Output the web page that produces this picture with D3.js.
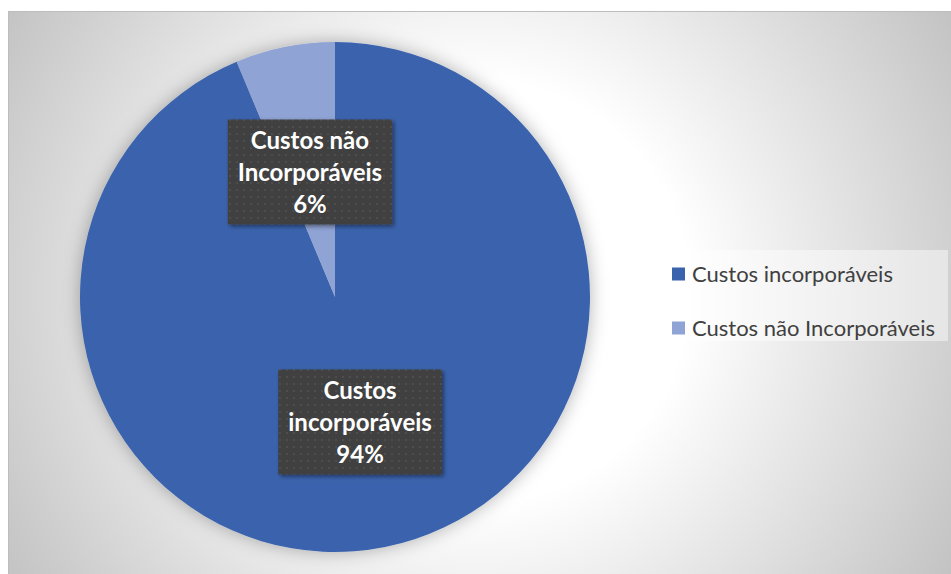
<!doctype html>
<meta charset="utf-8">
<style>
body { margin: 0; background: #fff; }
#chart { font-family: Lato, "Open Sans", sans-serif; }
.slice-label { fill: #fff; font-weight: bold; font-size: 24px; }
.legend text { fill: #404040; font-size: 22px; }
</style>
<div id="chart"></div>
<script src="https://cdn.jsdelivr.net/npm/d3@7"></script>
<script>
// data
var categories = ['Custos incorporáveis', 'Custos não Incorporáveis'];
var values = [93.7, 6.3];
var labelLines = [['Custos', 'incorporáveis'], ['Custos não', 'Incorporáveis']];
var colors = ['#3a63ad', '#8fa3d4'];

var width = 951, height = 574;
var cx = 335, cy = 297, radius = 255;

var svg = d3.select('#chart').append('svg')
    .attr('width', width)
    .attr('height', height)
    .style('display', 'block');

var defs = svg.append('defs');

// background: soft radial gradient, grey at the edges
var grad = defs.append('radialGradient')
    .attr('id', 'bg')
    .attr('gradientUnits', 'userSpaceOnUse')
    .attr('cx', 478).attr('cy', 292).attr('r', 555);
grad.append('stop').attr('offset', 0).attr('stop-color', '#ffffff');
grad.append('stop').attr('offset', 0.38).attr('stop-color', '#ffffff');
grad.append('stop').attr('offset', 1).attr('stop-color', '#c2c2c2');

var glow = defs.append('filter').attr('id', 'glow')
    .attr('x', '-20%').attr('y', '-20%').attr('width', '140%').attr('height', '140%');
glow.append('feDropShadow')
    .attr('dx', 0).attr('dy', 0)
    .attr('stdDeviation', 9)
    .attr('flood-color', '#000').attr('flood-opacity', 0.3);

var boxShadow = defs.append('filter').attr('id', 'boxShadow')
    .attr('x', '-10%').attr('y', '-10%').attr('width', '130%').attr('height', '130%');
boxShadow.append('feDropShadow')
    .attr('dx', 2).attr('dy', 2)
    .attr('stdDeviation', 2)
    .attr('flood-color', '#000').attr('flood-opacity', 0.45);

// dotted texture of the data label boxes
var pat = defs.append('pattern')
    .attr('id', 'dots')
    .attr('patternUnits', 'userSpaceOnUse')
    .attr('width', 7).attr('height', 7);
pat.append('rect').attr('width', 7).attr('height', 7).attr('fill', '#3f3f3f');
pat.append('rect').attr('x', 3).attr('y', 3).attr('width', 2).attr('height', 2).attr('fill', '#4e4e4e');

svg.append('rect')
    .attr('x', 8.5).attr('y', 11.5)
    .attr('width', width).attr('height', height)
    .attr('fill', 'url(#bg)')
    .attr('stroke', '#bdbdbd');

var pie = d3.pie().sort(null);
var arcs = pie(values);
var total = d3.sum(values);
var fmt = d3.format('.0%');

var arc = d3.arc().innerRadius(0).outerRadius(radius);

var g = svg.append('g').attr('transform', 'translate(' + cx + ',' + cy + ')');

g.append('g')
    .attr('filter', 'url(#glow)')
    .selectAll('path')
    .data(arcs)
    .join('path')
    .attr('d', arc)
    .attr('fill', function (d, i) { return colors[i]; });

// data labels: dark boxes at the centroid of each slice
var labels = g.selectAll('g.label')
    .data(arcs)
    .join('g')
    .attr('class', 'label')
    .attr('transform', function (d) {
        var c = arc.centroid(d);
        return 'translate(' + c[0] + ',' + c[1] + ')';
    });

labels.each(function (d, i) {
    var el = d3.select(this);
    var lines = labelLines[i].concat([fmt(values[i] / total)]);
    var box = el.append('rect').attr('filter', 'url(#boxShadow)').attr('fill', 'url(#dots)');
    var text = el.append('text')
        .attr('class', 'slice-label')
        .attr('text-anchor', 'middle');
    text.selectAll('tspan')
        .data(lines)
        .join('tspan')
        .attr('x', 0)
        .attr('y', function (l, j) { return (j - 1) * 32 + 9; })
        .text(function (l) { return l; });
    var w = d3.max(text.selectAll('tspan').nodes(), function (n) { return n.getComputedTextLength(); }) + 20;
    var h = 105;
    box.attr('x', -w / 2).attr('y', -h / 2)
        .attr('width', w).attr('height', h);
});

// legend
var legend = svg.append('g').attr('class', 'legend');
legend.append('rect')
    .attr('x', 660).attr('y', 250)
    .attr('width', 288).attr('height', 91)
    .attr('fill', '#fff').attr('fill-opacity', 0.45);

var y = d3.scalePoint().domain(categories).range([274, 328]);

var items = legend.selectAll('g.item')
    .data(categories)
    .join('g')
    .attr('class', 'item')
    .attr('transform', function (d) { return 'translate(672,' + y(d) + ')'; });
items.append('rect')
    .attr('x', 0).attr('y', -6.5)
    .attr('width', 13).attr('height', 13)
    .attr('fill', function (d, i) { return colors[i]; });
items.append('text')
    .attr('x', 20).attr('y', 8)
    .text(function (d) { return d; });
</script>
